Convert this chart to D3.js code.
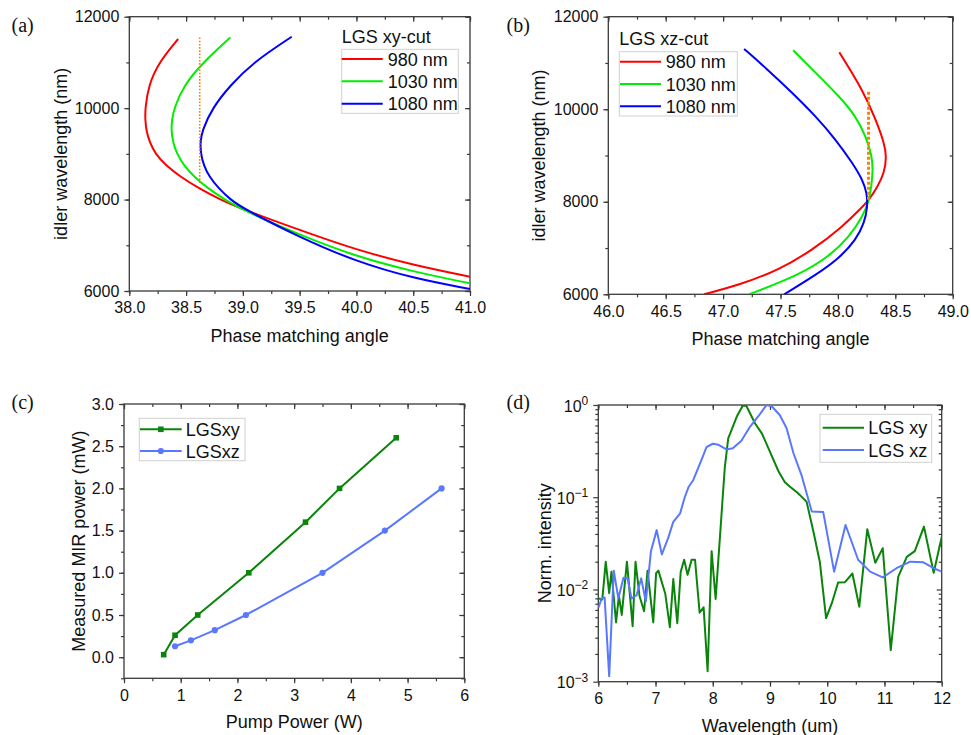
<!DOCTYPE html>
<html>
<head>
<meta charset="utf-8">
<script src="https://cdn.jsdelivr.net/npm/d3@7/dist/d3.min.js"></script>
<style>
  html, body { margin: 0; padding: 0; background: #fff; }
  svg { display: block; }
  text { font-family: "Liberation Sans", Arial, sans-serif; fill: #111; }
  .plabel { font-family: "Liberation Serif", "Times New Roman", serif; font-size: 20px; }
</style>
</head>
<body>
<svg id="fig" width="971" height="735"></svg>
<script>
// ---------- (a) LGS xy-cut: idler wavelength (nm) vs phase matching angle (deg)
const xyIdler980  = [6313, 6569, 6897, 7334, 7786, 8000, 8250, 8500, 8750, 9000, 9250, 9500, 9750, 10000, 10500, 11000, 11512];
const xyAngle980  = [41.0, 40.5, 40.0, 39.5, 39.0, 38.80, 38.61, 38.45, 38.32, 38.23, 38.18, 38.15, 38.14, 38.14, 38.17, 38.26, 38.43];
const xyIdler1030 = [6168, 6423, 6751, 7225, 7771, 8000, 8250, 8500, 8750, 9000, 9250, 9500, 9750, 10000, 10500, 11000, 11548];
const xyAngle1030 = [41.0, 40.5, 40.0, 39.5, 39.0, 38.84, 38.69, 38.57, 38.48, 38.42, 38.385, 38.37, 38.375, 38.395, 38.48, 38.65, 38.89];
const xyIdler1080 = [6044, 6277, 6641, 7174, 7808, 8000, 8250, 8500, 8750, 9000, 9250, 9500, 10000, 10500, 11000, 11562];
const xyAngle1080 = [41.0, 40.5, 40.0, 39.5, 39.0, 38.89, 38.785, 38.705, 38.655, 38.63, 38.625, 38.64, 38.73, 38.89, 39.09, 39.43];
const xyMarkAngle = 38.62;
const xyMarkIdler = [8360, 11560];

// ---------- (b) LGS xz-cut
const xzIdler980  = [6000, 6202, 6527, 6960, 7465, 7825, 8042, 8330, 8619, 8980, 9268, 9773, 10423, 11231];
const xzAngle980  = [46.834, 47.14, 47.488, 47.78, 48.041, 48.186, 48.273, 48.346, 48.404, 48.424, 48.404, 48.331, 48.215, 48.012];
const xzIdler1030 = [6000, 6418, 6815, 7248, 7681, 7991, 8330, 8691, 8980, 9413, 9846, 10278, 10784, 11274];
const xzAngle1030 = [47.227, 47.663, 47.924, 48.10, 48.215, 48.267, 48.292, 48.305, 48.297, 48.244, 48.157, 48.012, 47.808, 47.61];
const xzIdler1080 = [6000, 6418, 6779, 7176, 7537, 7898, 8186, 8475, 8835, 9340, 9846, 10351, 10892, 11303];
const xzAngle1080 = [47.532, 47.808, 48.012, 48.157, 48.23, 48.259, 48.253, 48.215, 48.128, 47.983, 47.808, 47.605, 47.372, 47.183];
const xzMarkAngle = 48.267;
const xzMarkIdler = [8042, 10423];

const pumpLabels = ["980 nm", "1030 nm", "1080 nm"];
const angleTicksA = [38.0, 38.5, 39.0, 39.5, 40.0, 40.5, 41.0];
const angleTicksB = [46.0, 46.5, 47.0, 47.5, 48.0, 48.5, 49.0];
const idlerTicks = [6000, 8000, 10000, 12000];

// ---------- (c) measured MIR power vs pump power
const pumpXY = [0.7, 0.9, 1.3, 2.2, 3.2, 3.8, 4.8];
const mirXY  = [0.03, 0.26, 0.5, 1.0, 1.6, 2.0, 2.6];
const pumpXZ = [0.9, 1.18, 1.6, 2.15, 3.5, 4.6, 5.6];
const mirXZ  = [0.13, 0.2, 0.32, 0.5, 1.0, 1.5, 2.0];
const pumpTicks = [0, 1, 2, 3, 4, 5, 6];
const mirTicks = [0.0, 0.5, 1.0, 1.5, 2.0, 2.5, 3.0];

// ---------- (d) normalized idler spectra
const specWlXY = [6.00, 6.07, 6.13, 6.19, 6.23, 6.31, 6.36, 6.41, 6.50, 6.60, 6.65, 6.72, 6.80, 6.86, 6.96,
  7.01, 7.05, 7.17, 7.25, 7.31, 7.38, 7.44, 7.50, 7.56, 7.63, 7.69, 7.77, 7.84, 7.91, 7.98, 8.05,
  8.21, 8.27, 8.42, 8.53, 8.59, 8.74, 8.86, 9.00, 9.15, 9.26, 9.35, 9.47, 9.52, 9.64, 9.76, 9.87,
  9.98, 10.08, 10.19, 10.31, 10.44, 10.56, 10.70, 10.84, 10.97, 11.11, 11.24, 11.39, 11.53, 11.69, 11.86, 12.00];
const specIntXY = [0.0080, 0.0078, 0.020, 0.0091, 0.0156, 0.0044, 0.0085, 0.0053, 0.020, 0.0040, 0.020, 0.0085, 0.0058, 0.016, 0.0044,
  0.015, 0.016, 0.0090, 0.0039, 0.013, 0.0043, 0.0156, 0.021, 0.0144, 0.021, 0.021, 0.0056, 0.0064, 0.0013, 0.026, 0.0079,
  0.21, 0.435, 0.75, 1.0, 0.97, 0.63, 0.49, 0.31, 0.19, 0.145, 0.13, 0.113, 0.106, 0.089, 0.042, 0.020,
  0.0049, 0.0071, 0.0119, 0.012, 0.0149, 0.0065, 0.045, 0.0195, 0.028, 0.0022, 0.0137, 0.0226, 0.026, 0.048, 0.0152, 0.037];
const specWlXZ = [6.00, 6.06, 6.11, 6.19, 6.27, 6.35, 6.44, 6.51, 6.58, 6.67, 6.75, 6.83, 6.92, 7.02, 7.11,
  7.22, 7.31, 7.43, 7.51, 7.58, 7.66, 7.81, 7.89, 8.00, 8.10, 8.24, 8.35, 8.50, 8.65, 8.80, 8.94, 9.03,
  9.17, 9.29, 9.41, 9.55, 9.73, 9.93, 10.12, 10.32, 10.54, 10.75, 10.97, 11.21, 11.45, 11.68, 11.86, 12.00];
const specIntXZ = [0.0063, 0.0080, 0.0082, 0.00115, 0.016, 0.0080, 0.0134, 0.0133, 0.0080, 0.0087, 0.0132, 0.0074, 0.026, 0.044, 0.024,
  0.036, 0.054, 0.067, 0.10, 0.13, 0.154, 0.26, 0.35, 0.38, 0.37, 0.33, 0.34, 0.41, 0.58, 0.76, 1.0, 0.97,
  0.78, 0.56, 0.30, 0.174, 0.070, 0.069, 0.0156, 0.050, 0.021, 0.0156, 0.0135, 0.017, 0.020, 0.0197, 0.017, 0.0156];
const wlTicks = [6, 7, 8, 9, 10, 11, 12];
const intTicks = [1e-3, 1e-2, 1e-1, 1];

// ---------- styling
const C = {
  red: "#ff0000", lime: "#00ee00", blue: "#0000ff", orange: "#ff8000",
  green: "#0a840a", royal: "#5a78ff", axis: "#3a3a3a", legendBorder: "#d0d0d0"
};
const TICK_FONT = 16, TITLE_FONT = 18;

const svg = d3.select("#fig");

function zip(a, b) { return a.map((v, i) => [v, b[i]]); }
function range(a, b, step) { const out = []; for (let v = a; v <= b + 1e-9; v += step) out.push(+v.toFixed(6)); return out; }

// Frame with outward ticks on left/bottom and inward mirror ticks on top/right
function frame(box, x, y, o) {
  const g = svg.append("g");
  const axStyle = sel => {
    sel.select(".domain").remove();
    sel.selectAll("line").attr("stroke", C.axis).attr("stroke-width", 1.2);
    sel.selectAll("text").attr("font-size", TICK_FONT).attr("fill", "#111")
      .attr("font-family", "Liberation Sans, Arial, sans-serif");
  };
  const none = () => "";
  g.append("g").attr("transform", `translate(0,${box.b})`)
    .call(d3.axisBottom(x).tickValues(o.xMinor).tickSize(3).tickFormat(none)).call(axStyle);
  g.append("g").attr("transform", `translate(0,${box.b})`)
    .call(d3.axisBottom(x).tickValues(o.xTicks).tickSize(5).tickPadding(6).tickFormat(o.xFmt)).call(axStyle);
  g.append("g").attr("transform", `translate(0,${box.t})`)
    .call(d3.axisTop(x).tickValues(o.xMinor).tickSize(-3).tickFormat(none)).call(axStyle);
  g.append("g").attr("transform", `translate(0,${box.t})`)
    .call(d3.axisTop(x).tickValues(o.xTicks).tickSize(-5).tickFormat(none)).call(axStyle);
  g.append("g").attr("transform", `translate(${box.l},0)`)
    .call(d3.axisLeft(y).tickValues(o.yMinor).tickSize(3).tickFormat(none)).call(axStyle);
  const yl = g.append("g").attr("transform", `translate(${box.l},0)`)
    .call(d3.axisLeft(y).tickValues(o.yTicks).tickSize(5).tickPadding(5).tickFormat(o.yFmt)).call(axStyle);
  g.append("g").attr("transform", `translate(${box.r},0)`)
    .call(d3.axisRight(y).tickValues(o.yMinor).tickSize(-3).tickFormat(none)).call(axStyle);
  g.append("g").attr("transform", `translate(${box.r},0)`)
    .call(d3.axisRight(y).tickValues(o.yTicks).tickSize(-5).tickFormat(none)).call(axStyle);
  g.append("rect").attr("x", box.l).attr("y", box.t).attr("width", box.r - box.l).attr("height", box.b - box.t)
    .attr("fill", "none").attr("stroke", C.axis).attr("stroke-width", 1.3);
  g.append("text").attr("x", (box.l + box.r) / 2).attr("y", box.b + o.xTitleDy)
    .attr("text-anchor", "middle").attr("font-size", TITLE_FONT).text(o.xTitle);
  g.append("text").attr("transform", `translate(${o.yTitleX},${(box.t + box.b) / 2}) rotate(-90)`)
    .attr("text-anchor", "middle").attr("font-size", TITLE_FONT).text(o.yTitle);
  svg.append("text").attr("class", "plabel").attr("x", o.label[0]).attr("y", o.label[1]).text(o.label[2]);
  return yl;
}

function clip(id, box) {
  svg.append("clipPath").attr("id", id).append("rect")
    .attr("x", box.l).attr("y", box.t).attr("width", box.r - box.l).attr("height", box.b - box.t);
  return svg.append("g").attr("clip-path", `url(#${id})`);
}

function legend(box, entries, title) {
  const g = svg.append("g");
  if (title) g.append("text").attr("x", title.x).attr("y", title.y).attr("font-size", TITLE_FONT).text(title.text);
  g.append("rect").attr("x", box.x).attr("y", box.y).attr("width", box.w).attr("height", box.h)
    .attr("fill", "#fff").attr("stroke", C.legendBorder).attr("stroke-width", 1);
  entries.forEach(e => {
    g.append("line").attr("x1", e.x1).attr("x2", e.x2).attr("y1", e.y).attr("y2", e.y)
      .attr("stroke", e.color).attr("stroke-width", 2);
    if (e.marker === "square") {
      g.append("rect").attr("x", (e.x1 + e.x2) / 2 - 2.8).attr("y", e.y - 2.8).attr("width", 5.6).attr("height", 5.6).attr("fill", e.color);
    } else if (e.marker === "circle") {
      g.append("circle").attr("cx", (e.x1 + e.x2) / 2).attr("cy", e.y).attr("r", 3.1).attr("fill", e.color);
    }
    g.append("text").attr("x", e.tx).attr("y", e.y + 6.5).attr("font-size", TITLE_FONT).text(e.label);
  });
}

const fmt1 = d3.format(".1f");

// tuning curves: angle on x, idler wavelength on y, smoothed with a B-spline
function tuning(g, x, y, sets) {
  const line = d3.line().x(d => x(d[1])).y(d => y(d[0])).curve(d3.curveBasis);
  sets.forEach(([w, a, c]) => g.append("path").datum(zip(w, a)).attr("d", line)
    .attr("fill", "none").attr("stroke", c).attr("stroke-width", 2));
}

// ================= (a)
{
  const box = { l: 129.3, r: 470, t: 16.7, b: 291 };
  const x = d3.scaleLinear().domain([38, 41]).range([box.l, box.r]);
  const y = d3.scaleLinear().domain([6000, 12000]).range([box.b, box.t]);
  frame(box, x, y, {
    xTicks: angleTicksA, xMinor: range(38, 41, 0.25), xFmt: fmt1,
    yTicks: idlerTicks, yMinor: range(6000, 12000, 1000), yFmt: d3.format("d"),
    xTitle: "Phase matching angle", xTitleDy: 50.5,
    yTitle: "idler wavelength (nm)", yTitleX: 67, label: [11.5, 32, "(a)"]
  });
  const g = clip("clipA", box);
  tuning(g, x, y, [[xyIdler980, xyAngle980, C.red], [xyIdler1030, xyAngle1030, C.lime], [xyIdler1080, xyAngle1080, C.blue]]);
  g.append("line").attr("x1", x(xyMarkAngle)).attr("x2", x(xyMarkAngle))
    .attr("y1", y(xyMarkIdler[0])).attr("y2", y(xyMarkIdler[1]))
    .attr("stroke", C.orange).attr("stroke-width", 1.6).attr("stroke-dasharray", "1.6,1.6");
  legend({ x: 341.7, y: 49.3, w: 116.6, h: 64 },
    pumpLabels.map((l, i) => ({ label: l, color: [C.red, C.lime, C.blue][i], x1: 341.7, x2: 382.7, y: [59, 81.3, 103.7][i], tx: 387.7 })),
    { x: 341.7, y: 43.3, text: "LGS xy-cut" });
}

// ================= (b)
{
  const box = { l: 608.3, r: 952.7, t: 16.7, b: 294.3 };
  const x = d3.scaleLinear().domain([46, 49]).range([box.l, box.r]);
  const y = d3.scaleLinear().domain([6000, 12000]).range([box.b, box.t]);
  frame(box, x, y, {
    xTicks: angleTicksB, xMinor: range(46, 49, 0.25), xFmt: fmt1,
    yTicks: idlerTicks, yMinor: range(6000, 12000, 1000), yFmt: d3.format("d"),
    xTitle: "Phase matching angle", xTitleDy: 50.5,
    yTitle: "idler wavelength (nm)", yTitleX: 545, label: [506.5, 32, "(b)"]
  });
  const g = clip("clipB", box);
  tuning(g, x, y, [[xzIdler980, xzAngle980, C.red], [xzIdler1030, xzAngle1030, C.lime], [xzIdler1080, xzAngle1080, C.blue]]);
  g.append("line").attr("x1", x(xzMarkAngle)).attr("x2", x(xzMarkAngle))
    .attr("y1", y(xzMarkIdler[0])).attr("y2", y(xzMarkIdler[1]))
    .attr("stroke", C.orange).attr("stroke-width", 3).attr("stroke-dasharray", "3,2");
  legend({ x: 619.3, y: 51.7, w: 118, h: 64.3 },
    pumpLabels.map((l, i) => ({ label: l, color: [C.red, C.lime, C.blue][i], x1: 620, x2: 661, y: [61.7, 84, 106.3][i], tx: 665.7 })),
    { x: 619.3, y: 45, text: "LGS xz-cut" });
}

// ================= (c)
{
  const box = { l: 124, r: 464.3, t: 404, b: 678.3 };
  const x = d3.scaleLinear().domain([0, 6]).range([box.l, box.r]);
  const y = d3.scaleLinear().domain([-0.25, 3.0]).range([box.b, box.t]);
  frame(box, x, y, {
    xTicks: pumpTicks, xMinor: range(0, 6, 0.5), xFmt: d3.format("d"),
    yTicks: mirTicks, yMinor: range(-0.25, 3.0, 0.25), yFmt: fmt1,
    xTitle: "Pump Power (W)", xTitleDy: 50,
    yTitle: "Measured MIR power (mW)", yTitleX: 85, label: [11.5, 409, "(c)"]
  });
  const line = d3.line().x(d => x(d[0])).y(d => y(d[1]));
  svg.append("path").datum(zip(pumpXY, mirXY)).attr("d", line).attr("fill", "none").attr("stroke", C.green).attr("stroke-width", 2);
  svg.append("path").datum(zip(pumpXZ, mirXZ)).attr("d", line).attr("fill", "none").attr("stroke", C.royal).attr("stroke-width", 2);
  svg.selectAll(".sq").data(zip(pumpXY, mirXY)).join("rect")
    .attr("x", d => x(d[0]) - 2.8).attr("y", d => y(d[1]) - 2.8).attr("width", 5.6).attr("height", 5.6).attr("fill", C.green);
  svg.selectAll(".ci").data(zip(pumpXZ, mirXZ)).join("circle")
    .attr("cx", d => x(d[0])).attr("cy", d => y(d[1])).attr("r", 3.1).attr("fill", C.royal);
  legend({ x: 139.3, y: 418.3, w: 105.7, h: 42.4 }, [
    { label: "LGSxy", color: C.green, marker: "square", x1: 140, x2: 181.7, y: 429.3, tx: 185.7 },
    { label: "LGSxz", color: C.royal, marker: "circle", x1: 140, x2: 181.7, y: 451, tx: 185.7 }
  ]);
}

// ================= (d)
{
  const box = { l: 598.3, r: 941.7, t: 405, b: 681.7 };
  const x = d3.scaleLinear().domain([6, 12]).range([box.l, box.r]);
  const y = d3.scaleLog().domain([1e-3, 1]).range([box.b, box.t]);
  const minors = [];
  [1e-3, 1e-2, 1e-1].forEach(dec => { for (let k = 2; k <= 9; k++) minors.push(dec * k); });
  const yl = frame(box, x, y, {
    xTicks: wlTicks, xMinor: range(6, 12, 0.5), xFmt: d3.format("d"),
    yTicks: intTicks, yMinor: minors, yFmt: () => "",
    xTitle: "Wavelength (um)", xTitleDy: 50,
    yTitle: "Norm. intensity", yTitleX: 551, label: [506.5, 409, "(d)"]
  });
  // power-of-ten labels with superscript exponents
  yl.selectAll(".tick text").each(function (d) {
    const t = d3.select(this);
    const e = Math.round(Math.log10(d));
    t.text(null).attr("dy", "0.38em");
    t.append("tspan").text("10");
    t.append("tspan").attr("dy", "-0.55em").attr("font-size", 12).text(String(e).replace("-", "\u2212"));
  });
  const g = clip("clipD", box);
  const line = d3.line().x(d => x(d[0])).y(d => y(d[1]));
  g.append("path").datum(zip(specWlXY, specIntXY)).attr("d", line).attr("fill", "none")
    .attr("stroke", C.green).attr("stroke-width", 2).attr("stroke-linejoin", "round");
  g.append("path").datum(zip(specWlXZ, specIntXZ)).attr("d", line).attr("fill", "none")
    .attr("stroke", C.royal).attr("stroke-width", 2).attr("stroke-linejoin", "round");
  legend({ x: 820, y: 414.3, w: 111.7, h: 48 }, [
    { label: "LGS xy", color: C.green, x1: 822.7, x2: 864, y: 427.7, tx: 868.3 },
    { label: "LGS xz", color: C.royal, x1: 822.7, x2: 864, y: 450, tx: 868.3 }
  ]);
}
</script>
</body>
</html>
